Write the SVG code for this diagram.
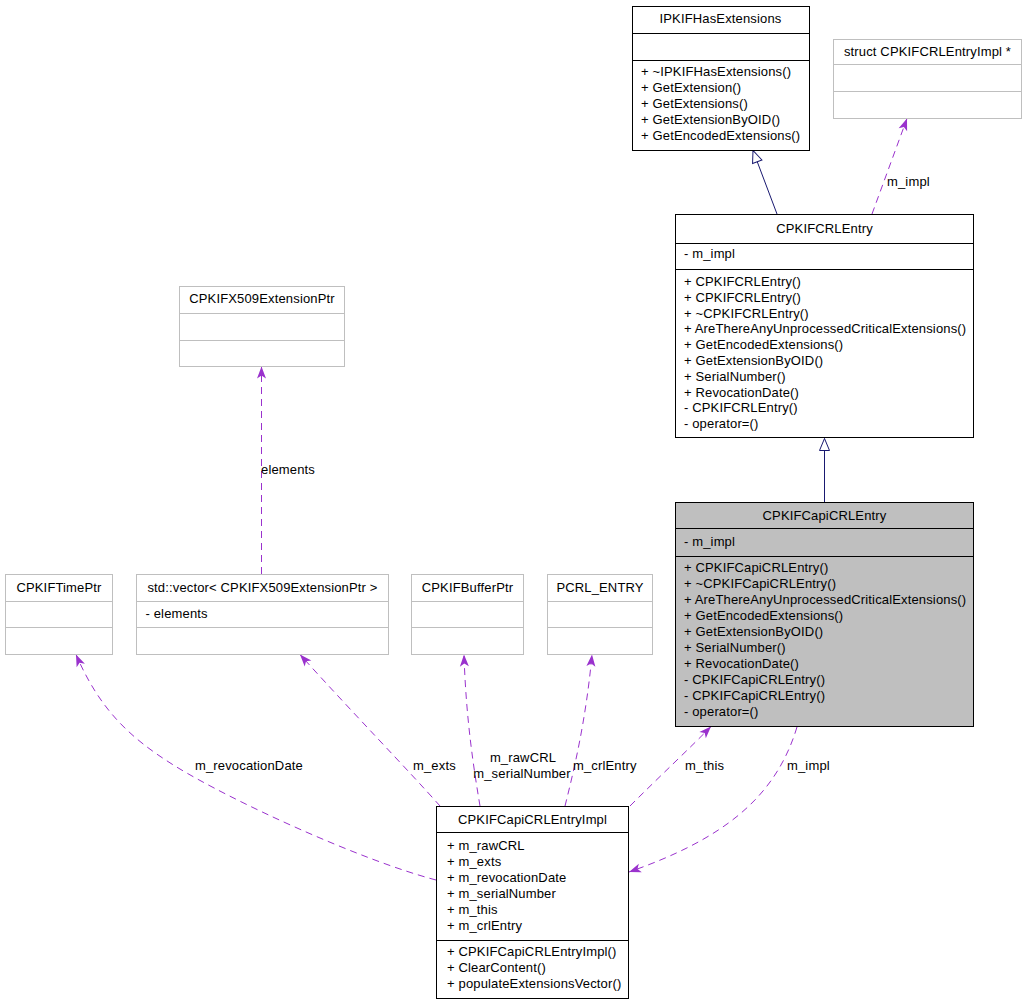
<svg xmlns="http://www.w3.org/2000/svg" width="1025" height="1003" viewBox="0 0 1025 1003">
<defs>
<style>
text{font-family:"Liberation Sans",Arial,Helvetica,sans-serif;font-size:13px;fill:#000;letter-spacing:0.15px}
.c{text-anchor:middle}
.box{fill:#fff;stroke:#000;stroke-width:1}
.gbox{fill:#fff;stroke:#bfbfbf;stroke-width:1}
.sel{fill:#bfbfbf;stroke:#000;stroke-width:1}
.dl{stroke:#000;stroke-width:1}
.gl{stroke:#bfbfbf;stroke-width:1}
.use{fill:none;stroke:#9a32cd;stroke-width:1;stroke-dasharray:7,5;marker-end:url(#arr)}
.inh{fill:none;stroke:#191970;stroke-width:1;marker-end:url(#tri)}
</style>
<marker id="arr" markerUnits="userSpaceOnUse" markerWidth="14" markerHeight="12" viewBox="0 0 14 12" refX="13" refY="6" orient="auto">
<path d="M1,1.5 L13,6 L1,10.5 L4,6 z" fill="#9a32cd"/>
</marker>
<marker id="tri" markerUnits="userSpaceOnUse" markerWidth="15" markerHeight="12" viewBox="0 0 15 12" refX="13.5" refY="6" orient="auto">
<path d="M1.5,1 L13.5,6 L1.5,11 z" fill="#fff" stroke="#191970" stroke-width="1"/>
</marker>
</defs>
<rect width="1025" height="1003" fill="#fff"/>

<g id="connectors">
<path class="inh" d="M777,214 L753,150.5"/>
<path class="inh" d="M824.5,502 L824.5,438.5"/>
<path class="use" d="M872,214 L907,118.5"/>
<path class="use" d="M261.5,574 L261.5,366.5"/>
<path class="use" d="M436,880 C360,860 230,800 175,766 C130,738 100,710 76,654.5"/>
<path class="use" d="M440,806 C410,772 350,710 300,654.5"/>
<path class="use" d="M480,806 C474,770 466,720 464,654.5"/>
<path class="use" d="M565,806 C574,770 586,720 592,654.5"/>
<path class="use" d="M630,806 C660,776 690,748 711,726.5"/>
<path class="use" d="M797,727 C775,800 720,840 629,872"/>
<text x="887" y="186">m_impl</text>
<text x="261" y="474">elements</text>
<text x="195" y="770">m_revocationDate</text>
<text x="413" y="770">m_exts</text>
<text x="523" y="762" class="c">m_rawCRL</text>
<text x="522" y="777.5" class="c">m_serialNumber</text>
<text x="573" y="770">m_crlEntry</text>
<text x="685" y="770">m_this</text>
<text x="787" y="770">m_impl</text>
</g>

<g id="IPKIFHasExtensions">
<rect class="box" x="632.5" y="6.5" width="177" height="144"/>
<line class="dl" x1="632.5" y1="33.5" x2="809.5" y2="33.5"/>
<line class="dl" x1="632.5" y1="60.5" x2="809.5" y2="60.5"/>
<text x="720.5" y="23" class="c">IPKIFHasExtensions</text>
<text x="641" y="76">+ ~IPKIFHasExtensions()</text>
<text x="641" y="92">+ GetExtension()</text>
<text x="641" y="108">+ GetExtensions()</text>
<text x="641" y="124">+ GetExtensionByOID()</text>
<text x="641" y="140">+ GetEncodedExtensions()</text>
</g>

<g id="CPKIFCRLEntryImplPtr">
<rect class="gbox" x="833.5" y="39.5" width="188" height="79"/>
<line class="gl" x1="833.5" y1="64.5" x2="1021.5" y2="64.5"/>
<line class="gl" x1="833.5" y1="91.5" x2="1021.5" y2="91.5"/>
<text x="927.5" y="56" class="c">struct CPKIFCRLEntryImpl *</text>
</g>

<g id="CPKIFCRLEntry">
<rect class="box" x="675.5" y="214.5" width="298" height="223"/>
<line class="dl" x1="675.5" y1="243.5" x2="973.5" y2="243.5"/>
<line class="dl" x1="675.5" y1="269.5" x2="973.5" y2="269.5"/>
<text x="824.5" y="233" class="c">CPKIFCRLEntry</text>
<text x="684" y="258">- m_impl</text>
<text x="684" y="286">+ CPKIFCRLEntry()</text>
<text x="684" y="301.8">+ CPKIFCRLEntry()</text>
<text x="684" y="317.6">+ ~CPKIFCRLEntry()</text>
<text x="684" y="333.4">+ AreThereAnyUnprocessedCriticalExtensions()</text>
<text x="684" y="349.2">+ GetEncodedExtensions()</text>
<text x="684" y="365">+ GetExtensionByOID()</text>
<text x="684" y="380.8">+ SerialNumber()</text>
<text x="684" y="396.6">+ RevocationDate()</text>
<text x="684" y="412.4">- CPKIFCRLEntry()</text>
<text x="684" y="428.2">- operator=()</text>
</g>

<g id="CPKIFCapiCRLEntry">
<rect class="sel" x="675.5" y="502.5" width="298" height="224"/>
<line class="dl" x1="675.5" y1="528.5" x2="973.5" y2="528.5"/>
<line class="dl" x1="675.5" y1="556.5" x2="973.5" y2="556.5"/>
<text x="824.5" y="519.5" class="c">CPKIFCapiCRLEntry</text>
<text x="684" y="546">- m_impl</text>
<text x="684" y="572">+ CPKIFCapiCRLEntry()</text>
<text x="684" y="588">+ ~CPKIFCapiCRLEntry()</text>
<text x="684" y="604">+ AreThereAnyUnprocessedCriticalExtensions()</text>
<text x="684" y="620">+ GetEncodedExtensions()</text>
<text x="684" y="636">+ GetExtensionByOID()</text>
<text x="684" y="652">+ SerialNumber()</text>
<text x="684" y="668">+ RevocationDate()</text>
<text x="684" y="684">- CPKIFCapiCRLEntry()</text>
<text x="684" y="700">- CPKIFCapiCRLEntry()</text>
<text x="684" y="716">- operator=()</text>
</g>

<g id="CPKIFX509ExtensionPtr">
<rect class="gbox" x="179.5" y="286.5" width="165" height="80"/>
<line class="gl" x1="179.5" y1="313.5" x2="344.5" y2="313.5"/>
<line class="gl" x1="179.5" y1="340.5" x2="344.5" y2="340.5"/>
<text x="262" y="303" class="c">CPKIFX509ExtensionPtr</text>
</g>

<g id="CPKIFTimePtr">
<rect class="gbox" x="5.5" y="574.5" width="107" height="80"/>
<line class="gl" x1="5.5" y1="601.5" x2="112.5" y2="601.5"/>
<line class="gl" x1="5.5" y1="627.5" x2="112.5" y2="627.5"/>
<text x="59" y="592" class="c">CPKIFTimePtr</text>
</g>

<g id="vectorCPKIFX509ExtensionPtr">
<rect class="gbox" x="136.5" y="574.5" width="252" height="80"/>
<line class="gl" x1="136.5" y1="601.5" x2="388.5" y2="601.5"/>
<line class="gl" x1="136.5" y1="627.5" x2="388.5" y2="627.5"/>
<text x="262.5" y="592" class="c">std::vector&lt; CPKIFX509ExtensionPtr &gt;</text>
<text x="145.5" y="618">- elements</text>
</g>

<g id="CPKIFBufferPtr">
<rect class="gbox" x="411.5" y="574.5" width="112" height="80"/>
<line class="gl" x1="411.5" y1="601.5" x2="523.5" y2="601.5"/>
<line class="gl" x1="411.5" y1="627.5" x2="523.5" y2="627.5"/>
<text x="467.5" y="592" class="c">CPKIFBufferPtr</text>
</g>

<g id="PCRL_ENTRY">
<rect class="gbox" x="547.5" y="574.5" width="105" height="80"/>
<line class="gl" x1="547.5" y1="601.5" x2="652.5" y2="601.5"/>
<line class="gl" x1="547.5" y1="627.5" x2="652.5" y2="627.5"/>
<text x="600" y="592" class="c">PCRL_ENTRY</text>
</g>

<g id="CPKIFCapiCRLEntryImpl">
<rect class="box" x="436.5" y="806.5" width="192" height="192"/>
<line class="dl" x1="436.5" y1="832.5" x2="628.5" y2="832.5"/>
<line class="dl" x1="436.5" y1="940.5" x2="628.5" y2="940.5"/>
<text x="532.5" y="823.5" class="c">CPKIFCapiCRLEntryImpl</text>
<text x="447" y="850">+ m_rawCRL</text>
<text x="447" y="866">+ m_exts</text>
<text x="447" y="882">+ m_revocationDate</text>
<text x="447" y="898">+ m_serialNumber</text>
<text x="447" y="914">+ m_this</text>
<text x="447" y="930">+ m_crlEntry</text>
<text x="447" y="956">+ CPKIFCapiCRLEntryImpl()</text>
<text x="447" y="972">+ ClearContent()</text>
<text x="447" y="988">+ populateExtensionsVector()</text>
</g>
</svg>
